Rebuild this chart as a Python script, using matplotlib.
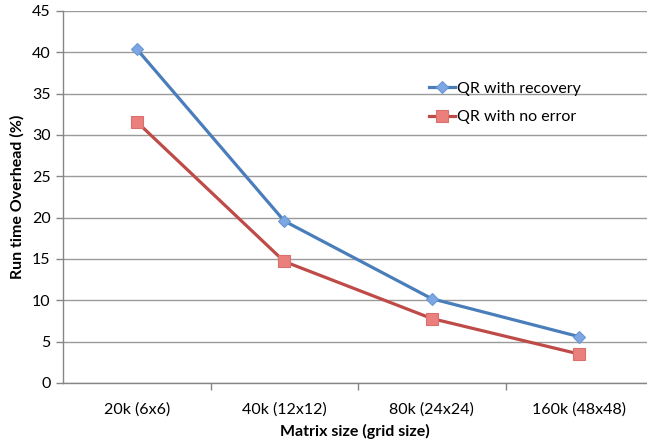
import numpy as np
import matplotlib
matplotlib.use('Agg')
import matplotlib.pyplot as plt

# chart data
categories = ['20k (6x6)', '40k (12x12)', '80k (24x24)', '160k (48x48)']
qr_recovery = [40.4, 19.6, 10.2, 5.6]
qr_no_error = [31.6, 14.7, 7.8, 3.5]
y_ticks = [0, 5, 10, 15, 20, 25, 30, 35, 40, 45]

plt.rcParams['font.family'] = ['Lato', 'DejaVu Sans']
FS = 11.5

W, H = 647, 444
fig = plt.figure(figsize=(W / 100, H / 100), dpi=100)
# plot area in pixels: left 63, top 11, bottom 383, runs off the right edge
ax = fig.add_axes([63 / W, 1 - 383 / H, (W - 63) / W, (383 - 11) / H])

x = np.arange(len(categories))
ax.plot(x, qr_recovery, color='#4A7EBB', linewidth=2.3, marker='D', markersize=6,
        markerfacecolor='#7DA7E3', markeredgecolor='#6A96D6', markeredgewidth=0.8,
        label='QR with recovery', zorder=3)
ax.plot(x, qr_no_error, color='#BE4B48', linewidth=2.3, marker='s', markersize=8,
        markerfacecolor='#EA7F7C', markeredgecolor='#D8706D', markeredgewidth=0.8,
        label='QR with no error', zorder=3)

ax.set_ylim(0, 45)
ax.set_yticks(y_ticks)
ax.set_xlim(-0.5, -0.5 + (W - 63) / 147.5)

# category labels centred, tick marks between categories
ax.set_xticks(x)
ax.set_xticklabels(categories, fontsize=FS)
ax.set_xticks(np.arange(0.5, len(categories) - 0.5, 1), minor=True)
ax.tick_params(axis='x', which='major', length=0, pad=14)
ax.tick_params(axis='x', which='minor', length=5, color='#868686', width=1, direction='out')
ax.tick_params(axis='y', length=5, color='#868686', width=1, labelsize=FS, pad=4)

ax.yaxis.grid(True, color='#9A9A9A', linewidth=1)
ax.set_axisbelow(True)
for s in ['top', 'right']:
    ax.spines[s].set_visible(False)
for s in ['left', 'bottom']:
    ax.spines[s].set_color('#868686')
    ax.spines[s].set_linewidth(1)

ax.set_ylabel('Run time Overhead (%)', fontsize=FS, fontweight='bold', labelpad=5)
ax.set_xlabel('Matrix size (grid size)', fontsize=FS, fontweight='bold', labelpad=5)

leg = ax.legend(loc='upper left', bbox_to_anchor=((423 - 63) / (W - 63), 1 - (75 - 11) / (383 - 11)),
                frameon=False, fontsize=FS, handlelength=1.6, handletextpad=0.1,
                labelspacing=0.9, borderaxespad=0)

fig.savefig('out.png', dpi=100)
